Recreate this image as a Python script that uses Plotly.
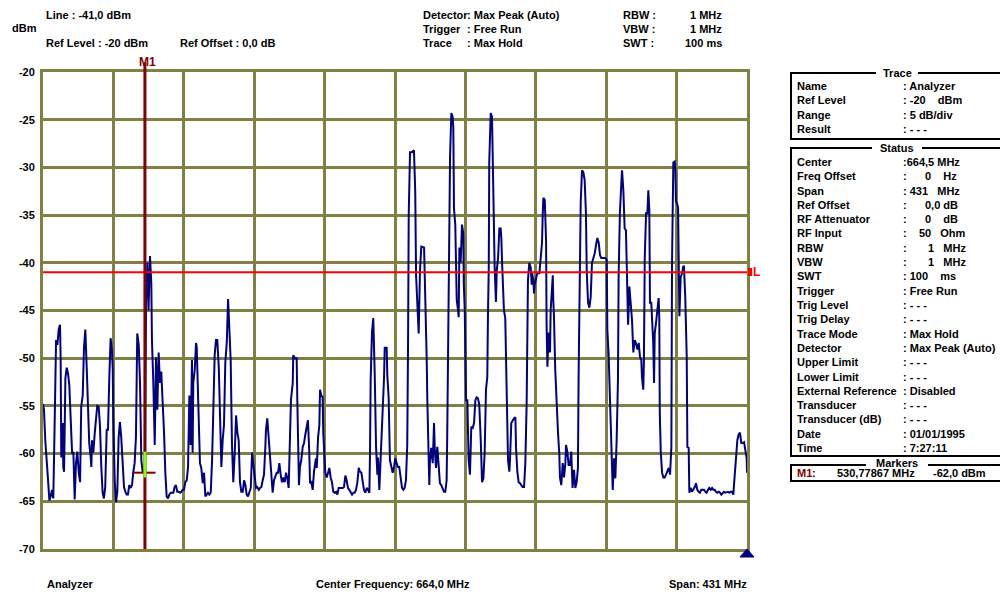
import plotly.graph_objects as go

# ---------------- data ----------------
freq_mhz = [
449.0, 449.6, 450.4, 451.3, 452.1, 452.9, 453.7, 454.5, 455.3, 456.2,
457.0, 457.8, 458.6, 459.4, 459.8, 460.2, 461.1, 461.4, 461.9, 462.3,
462.7, 463.5, 464.3, 465.1, 466.0, 466.8, 467.6, 468.4, 469.2, 470.0,
470.9, 471.7, 472.4, 473.3, 474.1, 474.9, 475.8, 476.5, 477.3, 478.2,
478.6, 479.0, 479.8, 480.7, 481.4, 482.2, 483.1, 483.9, 484.7, 485.5,
486.3, 487.1, 488.0, 488.8, 489.6, 490.4, 491.2, 491.7, 492.0, 492.9,
493.7, 494.5, 495.3, 496.1, 496.9, 497.8, 498.6, 499.4, 500.2, 501.0,
501.8, 502.7, 503.5, 504.3, 505.1, 505.9, 506.4, 506.7, 507.6, 508.4,
509.2, 510.0, 510.8, 511.4, 512.1, 512.9, 513.6, 514.5, 515.3, 515.7,
516.5, 517.4, 518.2, 519.0, 519.8, 520.6, 521.4, 522.3, 523.1, 523.9,
524.7, 525.5, 526.3, 527.2, 528.8, 529.6, 530.4, 531.2, 532.1, 532.9,
533.7, 534.5, 535.3, 536.1, 537.0, 537.8, 538.6, 539.4, 540.2, 540.6,
541.0, 541.9, 542.7, 543.1, 543.5, 544.3, 545.1, 545.9, 546.8, 547.6,
548.4, 549.2, 550.0, 550.8, 551.7, 552.5, 553.3, 554.1, 554.9, 555.7,
556.6, 557.4, 558.2, 559.0, 559.8, 560.6, 561.5, 562.3, 563.1, 563.9,
564.7, 565.5, 566.4, 567.2, 568.0, 568.8, 569.6, 570.4, 571.3, 572.1,
572.9, 573.7, 574.5, 575.3, 576.2, 577.0, 577.8, 578.6, 579.4, 580.2,
581.1, 581.9, 582.7, 583.5, 584.3, 585.1, 585.5, 586.3, 587.2, 588.0,
588.8, 589.6, 590.4, 591.2, 592.1, 592.9, 593.7, 594.5, 595.3, 596.1,
597.0, 597.8, 598.6, 599.4, 600.2, 600.8, 601.9, 602.2, 603.3, 604.3,
604.7, 605.1, 605.7, 606.3, 607.1, 608.0, 608.8, 609.6, 610.4, 611.2,
612.0, 612.5, 613.3, 614.1, 614.9, 615.3, 616.1, 616.6, 617.4, 618.2,
618.6, 619.4, 620.2, 620.6, 621.5, 621.8, 622.7, 623.5, 624.3, 625.1,
625.9, 626.7, 627.6, 628.4, 629.2, 630.0, 630.8, 631.6, 632.5, 633.3,
634.1, 634.9, 635.7, 636.5, 637.4, 638.2, 639.0, 639.8, 640.6, 641.4,
642.3, 643.1, 643.9, 644.7, 645.5, 646.3, 647.2, 648.0, 648.8, 649.2,
649.6, 650.4, 651.2, 652.1, 652.9, 653.7, 654.1, 654.9, 655.3, 656.1,
657.0, 657.8, 658.2, 659.4, 659.8, 660.6, 661.4, 662.2, 663.1, 663.9,
664.7, 665.5, 666.3, 667.1, 668.0, 668.8, 669.6, 670.4, 671.2, 672.0,
672.5, 672.9, 673.7, 674.9, 676.1, 676.9, 677.4, 678.2, 679.0, 679.8,
680.6, 682.3, 682.7, 683.1, 683.9, 684.3, 685.1, 685.5, 685.9, 686.7,
687.6, 688.4, 688.8, 689.6, 690.4, 691.3, 692.0, 692.8, 693.7, 694.5,
695.3, 696.1, 696.5, 697.0, 697.4, 698.2, 699.0, 699.8, 700.2, 700.6,
701.4, 702.3, 703.1, 703.5, 703.9, 704.7, 705.5, 706.3, 706.6, 707.2,
708.0, 708.8, 709.2, 709.6, 710.4, 711.2, 712.1, 712.9, 713.7, 714.5,
715.3, 716.1, 717.0, 717.8, 718.6, 719.4, 720.2, 721.0, 721.4, 721.9,
722.2, 723.1, 723.9, 724.3, 724.7, 725.5, 726.3, 726.8, 727.6, 728.4,
729.2, 729.6, 730.0, 730.4, 731.2, 732.0, 732.5, 732.9, 733.7, 734.5,
734.9, 735.7, 736.6, 737.4, 738.2, 738.6, 739.4, 740.2, 741.0, 741.8,
742.6, 743.5, 744.3, 745.1, 745.5, 745.9, 746.7, 747.6, 748.2, 748.4,
749.2, 749.6, 750.0, 750.8, 751.6, 752.9, 753.7, 754.5, 754.9, 755.3,
756.2, 757.0, 757.3, 757.8, 758.6, 759.4, 759.8, 760.2, 761.1, 761.4,
761.8, 762.6, 763.5, 764.3, 765.1, 765.5, 766.3, 767.2, 768.0, 768.8,
769.2, 770.0, 770.8, 771.6, 772.4, 773.2, 774.1, 774.9, 775.7, 776.5,
776.9, 777.8, 778.2, 779.0, 779.8, 780.6, 781.4, 781.9, 782.7, 783.5,
784.3, 785.1, 785.9, 786.8, 787.6, 788.4, 789.2, 790.0, 790.8, 792.0,
793.3, 794.1, 794.5, 795.3, 796.1, 796.9, 797.8, 798.6, 799.4, 800.2,
801.0, 801.4, 802.2, 803.1, 803.5, 804.3, 805.1, 805.9, 806.4, 807.2,
808.0, 808.8, 809.6, 810.4, 811.3, 812.0, 812.9, 813.7, 814.5, 815.3,
815.7, 816.5, 816.9, 817.4, 818.2, 819.0, 819.6, 820.2, 820.6, 821.4,
821.8, 822.6, 823.1, 823.5, 824.3, 825.1, 825.9, 826.3, 826.6, 827.2,
828.0, 828.8, 829.6, 830.4, 831.2, 832.1, 832.9, 833.7, 834.1, 834.9,
835.7, 836.1, 836.5, 837.0, 837.8, 838.2, 838.6, 839.4, 840.2, 841.0,
841.4, 842.2, 842.7, 843.1, 843.5, 844.3, 844.7, 845.5, 846.3, 847.1,
848.0, 848.8, 849.6, 850.4, 851.2, 852.0, 852.9, 853.7, 854.5, 855.3,
856.1, 856.9, 857.8, 858.6, 859.4, 860.2, 861.0, 861.8, 862.7, 863.5,
864.3, 865.1, 865.9, 866.7, 867.6, 868.4, 869.2, 870.0, 870.8, 871.6,
872.5, 873.3, 874.1, 874.9, 875.7, 876.5, 877.4, 878.2, 879.0, 879.8,
880.0]

level_dbm = [
-54.8, -55.4, -58.6, -61.4, -62.8, -64.9, -64.5, -63.8, -64.7, -56.2,
-48.1, -48.6, -47.0, -46.5, -49.9, -60.4, -56.8, -61.4, -61.9, -57.2,
-52.1, -51.0, -51.6, -52.8, -57.8, -59.9, -59.9, -64.8, -61.0, -59.8,
-62.0, -63.0, -55.1, -53.9, -48.9, -47.0, -51.2, -55.1, -58.9, -60.4,
-61.4, -58.6, -59.9, -57.8, -56.2, -55.0, -55.1, -57.2, -61.4, -64.1,
-64.7, -63.5, -57.5, -57.5, -52.0, -47.9, -49.1, -51.2, -56.2, -62.8,
-65.1, -64.0, -58.3, -56.7, -58.3, -61.4, -63.5, -64.0, -64.3, -64.3,
-63.3, -63.6, -63.3, -61.9, -61.0, -58.3, -53.6, -47.4, -48.6, -52.6,
-60.7, -61.9, -61.7, -62.0, -43.9, -40.0, -45.0, -39.3, -42.1, -48.1,
-52.3, -59.1, -49.9, -55.4, -49.4, -52.6, -51.4, -54.4, -57.8, -62.0,
-64.5, -64.7, -64.3, -64.1, -64.1, -63.5, -63.3, -64.0, -64.0, -64.1,
-64.0, -63.8, -63.8, -63.0, -62.8, -61.4, -53.9, -59.1, -50.2, -59.9,
-52.6, -51.2, -48.4, -48.8, -51.4, -57.5, -61.0, -61.5, -63.1, -62.0,
-64.5, -64.3, -64.1, -64.3, -64.1, -60.7, -53.5, -49.7, -48.1, -48.1,
-50.9, -57.2, -61.4, -58.6, -57.0, -50.5, -48.4, -43.8, -47.0, -50.2,
-59.1, -63.0, -59.8, -56.0, -57.8, -58.6, -63.0, -64.0, -64.0, -62.8,
-63.3, -64.3, -64.5, -64.0, -63.6, -59.9, -61.4, -62.5, -63.6, -63.5,
-63.8, -63.6, -63.5, -62.8, -62.2, -59.4, -57.5, -56.3, -58.3, -61.0,
-62.5, -64.1, -62.8, -62.5, -62.0, -62.0, -61.0, -62.2, -63.0, -62.5,
-63.0, -62.0, -62.6, -63.6, -58.3, -54.4, -52.6, -49.7, -50.0, -50.0,
-54.4, -59.9, -63.3, -61.4, -60.7, -59.3, -58.9, -58.0, -57.2, -56.5,
-59.8, -63.1, -63.0, -63.8, -61.9, -61.2, -60.5, -61.5, -58.3, -57.0,
-53.3, -53.9, -54.1, -57.8, -60.1, -62.0, -62.5, -62.0, -61.5, -62.5,
-63.0, -64.0, -64.1, -64.0, -64.3, -63.6, -63.6, -63.6, -63.6, -63.5,
-62.3, -62.8, -63.6, -63.8, -64.1, -64.3, -64.1, -64.1, -63.8, -63.1,
-61.5, -61.9, -62.0, -63.0, -63.8, -64.1, -63.6, -63.8, -64.1, -60.1,
-52.3, -47.3, -45.8, -51.8, -59.3, -62.2, -60.4, -63.8, -62.2, -59.4,
-55.2, -52.0, -48.9, -48.9, -51.8, -54.1, -60.7, -61.4, -62.0, -61.4,
-60.5, -61.0, -61.4, -61.4, -62.8, -63.6, -63.8, -63.6, -62.8, -59.1,
-48.3, -35.0, -28.4, -28.4, -28.2, -32.6, -41.3, -45.3, -47.4, -40.8,
-38.3, -38.4, -40.8, -45.8, -50.0, -54.4, -59.8, -63.3, -60.7, -59.4,
-61.0, -56.8, -59.3, -61.5, -59.3, -62.0, -63.1, -63.3, -63.6, -64.0,
-64.0, -62.8, -57.8, -49.9, -37.6, -28.9, -24.3, -24.7, -25.8, -34.3,
-36.0, -43.9, -45.0, -45.7, -38.4, -40.0, -36.0, -36.9, -42.1, -45.0,
-54.4, -54.4, -57.8, -60.7, -62.2, -57.2, -57.3, -56.8, -54.4, -54.1,
-54.2, -54.9, -58.6, -63.0, -62.6, -59.9, -53.3, -52.0, -45.7, -40.5,
-29.4, -24.3, -24.7, -29.2, -32.6, -40.4, -44.1, -40.8, -39.5, -36.4,
-36.4, -37.4, -39.7, -42.0, -45.0, -45.8, -50.2, -56.7, -60.7, -61.9,
-60.7, -56.8, -56.5, -56.3, -56.2, -59.4, -61.9, -63.0, -63.1, -63.3,
-63.5, -63.5, -61.0, -54.7, -46.5, -41.8, -40.0, -40.5, -42.3, -41.1,
-41.8, -43.2, -42.3, -41.8, -41.1, -41.1, -39.0, -37.9, -35.2, -33.2,
-33.4, -37.8, -46.5, -50.9, -47.3, -49.4, -45.0, -43.4, -41.3, -43.9,
-45.5, -51.2, -55.4, -57.8, -60.1, -62.5, -63.3, -61.0, -62.5, -61.0,
-59.1, -59.8, -61.2, -61.2, -59.8, -63.6, -61.7, -63.6, -63.0, -61.5,
-52.0, -39.4, -33.6, -30.3, -30.5, -31.3, -34.8, -41.0, -44.2, -44.7,
-43.6, -40.0, -39.5, -39.0, -38.1, -37.4, -37.9, -39.2, -39.5, -39.5,
-39.5, -39.7, -47.0, -49.7, -54.2, -59.6, -63.8, -60.5, -62.6, -58.6,
-52.3, -41.5, -34.7, -31.6, -30.3, -32.4, -36.4, -36.6, -42.3, -46.5,
-42.5, -44.1, -46.0, -49.4, -48.1, -48.4, -49.1, -48.4, -49.9, -50.2,
-52.0, -53.3, -50.2, -39.5, -34.8, -34.8, -32.4, -34.5, -44.2, -44.2,
-45.7, -48.4, -52.6, -47.4, -46.3, -44.6, -43.7, -45.7, -55.7, -59.8,
-62.0, -62.5, -62.5, -62.2, -61.9, -61.5, -62.2, -59.3, -40.0, -29.5,
-29.4, -30.0, -33.6, -33.7, -34.2, -41.5, -45.6, -41.5, -41.1, -40.4,
-40.4, -43.6, -46.0, -49.9, -59.3, -59.4, -64.1, -63.6, -64.0, -63.8,
-63.5, -63.1, -63.8, -64.0, -64.1, -63.8, -63.8, -63.8, -64.0, -64.1,
-63.8, -63.6, -63.8, -63.6, -63.8, -63.8, -64.0, -64.1, -64.0, -64.1,
-64.3, -64.1, -64.0, -64.1, -64.0, -64.0, -64.1, -64.0, -64.0, -64.3,
-62.2, -59.9, -58.6, -58.0, -57.8, -58.9, -58.9, -58.8, -59.6, -60.5,
-62.0]

start_mhz, stop_mhz = 449.0, 880.0
ref_level, bottom_level = -20, -70
y_ticks = [-20, -25, -30, -35, -40, -45, -50, -55, -60, -65, -70]
limit_line_dbm = -41.0
marker_freq = 511.4
marker_level = -62.0

header_left = [("Line : -41,0 dBm", 0), ("Ref Level : -20 dBm", 2)]
header_mid_labels = ["Detector", "Trigger", "Trace"]
header_mid_values = [": Max Peak (Auto)", ": Free Run", ": Max Hold"]
header_right_labels = ["RBW :", "VBW :", "SWT :"]
header_right_values = ["1 MHz", "1 MHz", "100 ms"]

trace_labels = ["Name", "Ref Level", "Range", "Result"]
trace_values = [": Analyzer", ": -20    dBm", ": 5 dB/div", ": - - -"]
status_labels = ["Center", "Freq Offset", "Span", "Ref Offset", "RF Attenuator",
                 "RF Input", "RBW", "VBW", "SWT", "Trigger", "Trig Level",
                 "Trig Delay", "Trace Mode", "Detector", "Upper Limit",
                 "Lower Limit", "External Reference", "Transducer",
                 "Transducer (dB)", "Date", "Time"]
status_values = [":664,5 MHz", ":      0    Hz", ": 431   MHz", ":      0,0 dB",
                 ":      0    dB", ":    50   Ohm", ":       1   MHz",
                 ":       1   MHz", ": 100    ms", ": Free Run", ": - - -",
                 ": - - -", ": Max Hold", ": Max Peak (Auto)", ": - - -",
                 ": - - -", ": Disabled", ": - - -", ": - - -",
                 ": 01/01/1995", ": 7:27:11"]

# ---------------- figure ----------------
W, H = 1000, 592
PX0, PX1, PY0, PY1 = 43, 747, 72, 549          # plot area in window pixels
L, T = PX0, PY0
R, B = W - PX1, H - PY1
PW, PH = PX1 - PX0, PY1 - PY0
FONT = "Liberation Sans Narrow, Liberation Sans, Arial, sans-serif"
OLIVE = "#808040"
NAVY = "#000080"
DARKRED = "#800000"


def px(x):
    return (x - PX0) / PW


def py(y):
    return (PY1 - y) / PH


annotations = []


def txt(x, y, s, anchor="left", color="black", size=11, bold=True):
    annotations.append(dict(
        xref="paper", yref="paper", x=px(x), y=py(y), text=s,
        xanchor=anchor, yanchor="middle", showarrow=False,
        font=dict(family=FONT, size=size, color=color,
                  weight="bold" if bold else "normal")))


shapes = []


def seg(x0, y0, x1, y1, color="black", width=2):
    shapes.append(dict(type="line", xref="paper", yref="paper",
                       x0=px(x0), y0=py(y0), x1=px(x1), y1=py(y1),
                       line=dict(color=color, width=width)))


fig = go.Figure()
fig.add_trace(go.Scatter(x=freq_mhz, y=level_dbm, mode="lines",
                         line=dict(color=NAVY, width=2), hoverinfo="skip"))

# limit line
shapes.append(dict(type="line", xref="x", yref="y", x0=start_mhz, x1=stop_mhz,
                   y0=limit_line_dbm, y1=limit_line_dbm,
                   line=dict(color="#FF0000", width=2)))
# marker line
shapes.append(dict(type="line", xref="x", yref="paper", x0=marker_freq,
                   x1=marker_freq, y0=0, y1=1.02,
                   line=dict(color=DARKRED, width=3)))
# marker cross + highlight
shapes.append(dict(type="line", xref="x", yref="y", x0=marker_freq - 7.0,
                   x1=marker_freq + 6.5, y0=marker_level, y1=marker_level,
                   line=dict(color=DARKRED, width=2)))
shapes.append(dict(type="line", xref="x", yref="y", x0=marker_freq,
                   x1=marker_freq, y0=marker_level + 2.2, y1=marker_level - 0.5,
                   line=dict(color="#80FF00", width=3)))
# bottom-right triangle
shapes.append(dict(type="path", xref="paper", yref="paper",
                   path=f"M {px(740)} {py(557)} L {px(754)} {py(557)} L {px(747)} {py(549)} Z",
                   fillcolor=NAVY, line=dict(color=NAVY, width=1)))
# limit line tag
shapes.append(dict(type="rect", xref="paper", yref="paper",
                   x0=px(748), x1=px(752), y0=py(276), y1=py(268),
                   fillcolor="#FF0000", line=dict(color="#FF0000", width=0)))
txt(751, 272, "L", color="#FF0000", size=12)
txt(137, 62, "M1", color=DARKRED, size=12)

# header
txt(10, 28, "dBm")
for s, row in header_left:
    txt(44, 15 + row * 14, s)
txt(178, 43, "Ref Offset : 0,0 dB")
for i, (a, b) in enumerate(zip(header_mid_labels, header_mid_values)):
    txt(421, 15 + i * 14, a)
    txt(465, 15 + i * 14, b)
for i, (a, b) in enumerate(zip(header_right_labels, header_right_values)):
    txt(621, 15 + i * 14, a)
    txt(724, 15 + i * 14, b, anchor="right")

# right panel: Trace box
seg(791, 73, 876, 73)
seg(918, 73, 1005, 73)
seg(791, 72, 791, 139)
seg(790, 139, 1005, 139)
txt(897, 73, "Trace", anchor="center")
for i, (a, b) in enumerate(zip(trace_labels, trace_values)):
    txt(795, 86 + i * 14.3, a)
    txt(901, 86 + i * 14.3, b)

# Status box
seg(791, 148, 872, 148)
seg(922, 148, 1005, 148)
seg(791, 147, 791, 456)
seg(790, 456, 1005, 456)
txt(897, 148, "Status", anchor="center")
for i, (a, b) in enumerate(zip(status_labels, status_values)):
    txt(795, 162 + i * 14.3, a)
    txt(901, 162 + i * 14.3, b)

# Markers box
seg(791, 465, 866, 465)
seg(928, 465, 1005, 465)
seg(791, 464, 791, 481)
seg(790, 481, 1005, 481)
txt(897, 463, "Markers", anchor="center")
txt(795, 473, "M1", color=DARKRED)
txt(810, 473, ":")
txt(917, 473, "530,77867 MHz", anchor="right")
txt(931, 473, "-62,0 dBm")

# footer
txt(45, 584, "Analyzer")
txt(314, 584, "Center Frequency: 664,0 MHz")
txt(667, 584, "Span: 431 MHz")

fig.update_layout(
    width=W, height=H,
    margin=dict(l=L, r=R, t=T, b=B, pad=0),
    paper_bgcolor="white", plot_bgcolor="white",
    showlegend=False,
    shapes=shapes, annotations=annotations,
    font=dict(family=FONT, size=11, color="black"),
    xaxis=dict(range=[start_mhz, stop_mhz], tick0=start_mhz,
               dtick=(stop_mhz - start_mhz) / 10, showticklabels=False,
               showgrid=True, gridcolor=OLIVE, gridwidth=2.5, zeroline=False,
               showline=True, linecolor=OLIVE, linewidth=3, mirror=True,
               ticks=""),
    yaxis=dict(range=[bottom_level, ref_level], tickvals=y_ticks,
               ticktext=[str(v) for v in y_ticks],
               showgrid=True, gridcolor=OLIVE, gridwidth=2.5, zeroline=False,
               showline=True, linecolor=OLIVE, linewidth=3, mirror=True,
               ticks="", ticklabelstandoff=3,
               tickfont=dict(family=FONT, size=11, color="black", weight="bold")),
)

# remove the default 8px page margin so the figure fills the window exactly
fig.write_html("out.html",
               config={"displayModeBar": False},
               post_script="document.body.style.margin='0';"
                           "document.body.style.overflow='hidden';")
